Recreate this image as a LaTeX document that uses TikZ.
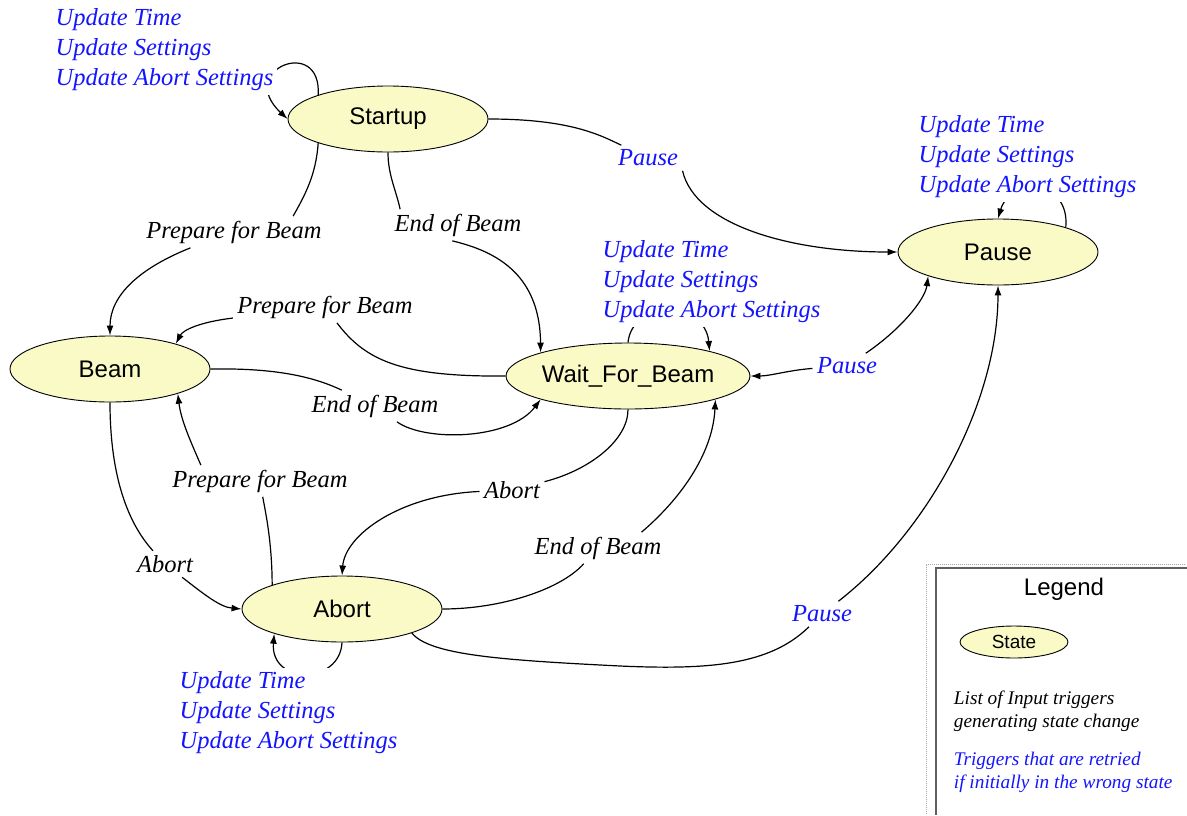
\documentclass[tikz,border=0pt]{standalone}
\usepackage{fontspec}
\setmainfont{Liberation Serif}
\setsansfont{Liberation Sans}
\usepackage{tikz}
\usetikzlibrary{backgrounds}
\usetikzlibrary{shapes.geometric}
\usetikzlibrary{arrows.meta}
\definecolor{stfill}{RGB}{250,250,198}
\definecolor{rtblue}{RGB}{20,20,255}
\newcommand{\stw}{200pt}
\newcommand{\stwl}{242pt}
\newcommand{\sth}{66pt}
\newcommand{\stfnt}{\sffamily\fontsize{24}{29}\selectfont}
\newcommand{\trfnt}{\itshape\fontsize{24.5}{30}\selectfont}
\newcommand{\lgfnt}{\itshape\fontsize{19.3}{23}\selectfont}
\tikzset{
  stnode/.style={ellipse, draw, line width=0.9pt, fill=stfill, inner sep=0pt,
    minimum width=\stw, minimum height=\sth, font=\stfnt},
  trlbl/.style={inner sep=4pt, fill=white, font=\trfnt},
  rtlbl/.style={trlbl, text=rtblue, align=left},
  trarr/.style={-{Latex[length=10pt,width=7pt]}},
}

\begin{document}
\begin{tikzpicture}[x=1pt,y=-1pt,line width=1.2pt]
    \useasboundingbox (0,0) rectangle (1187,815);

    \node (startup) at (388,119) [stnode] {Startup};
    \node (pause) at (998,252) [stnode] {Pause};
    \node (beam) at (110,369) [stnode] {Beam};
    \node (wait) at (628,376) [stnode, minimum width=\stwl] {Wait\_For\_Beam};
    \node (abort) at (342,609) [stnode] {Abort};

    \draw[trarr] (startup.161) .. controls (322,35) and (235,70) .. (startup.west);
    \draw[trarr] (pause.20) .. controls (1070,178) and (1010,178) .. (pause.north);
    \draw[trarr] (wait.north) .. controls (632,300) and (705,300) .. (wait.17);
    \draw[trarr] (abort.south) .. controls (340,685) and (270,685) .. (abort.200);

    \node (rtstartup) at (51,50) [rtlbl, anchor=west]
      {Update Time\\Update Settings\\Update Abort Settings};
    \node (rtpause) at (914,157) [rtlbl, anchor=west]
      {Update Time\\Update Settings\\Update Abort Settings};
    \node (rtwait) at (598,282) [rtlbl, anchor=west]
      {Update Time\\Update Settings\\Update Abort Settings};
    \node (rtabort) at (175,713) [rtlbl, anchor=west]
      {Update Time\\Update Settings\\Update Abort Settings};

    \node (lblsp) at (648,158) [trlbl, text=rtblue] {Pause};
    \node (lblsb) at (234,232) [trlbl] {Prepare for Beam};
    \node (lblsw) at (458,225) [trlbl] {End of Beam};
    \node (lblwb) at (325,307) [trlbl] {Prepare for Beam};
    \node (lblbw) at (375,406) [trlbl] {End of Beam};
    \node (lblwp) at (847,366) [trlbl, text=rtblue] {Pause};
    \node (lblwa) at (512,490) [trlbl] {Abort};
    \node (lblaw) at (598,548) [trlbl] {End of Beam};
    \node (lblba) at (165,564) [trlbl] {Abort};
    \node (lblab) at (260,481) [trlbl] {Prepare for Beam};
    \node (lblap) at (822,614) [trlbl, text=rtblue] {Pause};

    \draw (startup.east) .. controls (570,119) and (600,135) .. (lblsp);
    \draw[trarr] (lblsp.south east) .. controls (695,225) and (790,252) .. (pause.west);

    \draw (startup.199) .. controls (316,175) and (305,195) .. (lblsb.15);
    \draw[trarr] (lblsb.200) .. controls (140,268) and (110,295) .. (beam.north);

    \draw (startup.south) .. controls (388,175) and (396,190) .. ([xshift=10pt]lblsw.north west);
    \draw[trarr] (lblsw.250) .. controls (490,250) and (540,270) .. (wait.165);

    \draw (wait.west) .. controls (400,377) and (365,360) .. (lblwb);
    \draw[trarr] (lblwb) .. controls (200,322) and (183,330) .. (beam.21);

    \draw (beam.east) .. controls (270,368) and (310,375) .. (lblbw);
    \draw[trarr] (lblbw) .. controls (425,442) and (510,440) .. (wait.195);

    \draw[trarr] (lblwp) .. controls (790,370) and (770,376) .. (wait.east);
    \draw[trarr] (lblwp) .. controls (900,330) and (925,300) .. (pause.199);

    \draw (wait.south) .. controls (628,440) and (590,470) .. (lblwa);
    \draw[trarr] (lblwa) .. controls (400,495) and (345,535) .. (abort.north);

    \draw (abort.east) .. controls (500,609) and (560,590) .. (lblaw);
    \draw[trarr] (lblaw.20) .. controls (685,495) and (713,450) .. (wait.-15);

    \draw (beam.south) .. controls (110,470) and (125,520) .. (lblba);
    \draw[trarr] (lblba) .. controls (205,595) and (220,607) .. (abort.west);

    \draw (abort.161) .. controls (272,540) and (265,510) .. (lblab);
    \draw[trarr] (lblab.165) .. controls (190,440) and (181,420) .. (beam.-20);

    \draw (abort.-19) .. controls (430,655) and (500,660) .. (620,666)
      .. controls (710,670) and (770,665) .. (lblap);
    \draw[trarr] (lblap) .. controls (930,530) and (998,400) .. (pause.south);

    \node (lgtitle) at (1064,589) [font=\sffamily\fontsize{24}{29}\selectfont] {Legend};
    \node (lgstate) at (1014,642) [stnode, minimum width=108pt, minimum height=32pt,
      font=\sffamily\fontsize{19}{23}\selectfont] {State};
    \node (lgtrig) at (950,711) [anchor=west, align=left, font=\lgfnt]
      {List of Input triggers\\generating state change};
    \node (lgretry) at (950,772) [anchor=west, align=left, font=\lgfnt, text=rtblue]
      {Triggers that are retried\\if initially in the wrong state};

    \begin{scope}[on background layer]
      \draw[gray!70, line width=1pt, densely dotted] (1185,564) -- (926,564) -- (926,815);
      \draw[gray!75!black, line width=2pt] (1187,568) -- (936,568) -- (936,815);
    \end{scope}
  \end{tikzpicture}
\end{document}
